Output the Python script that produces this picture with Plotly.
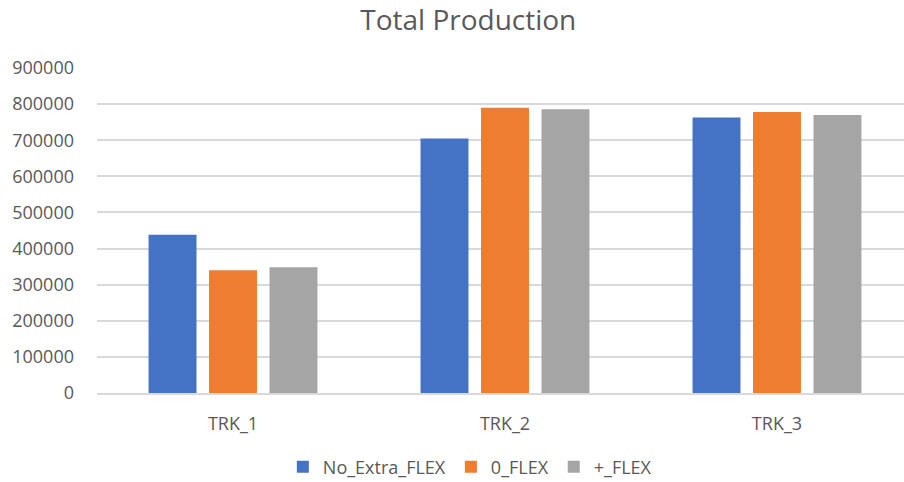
import plotly.graph_objects as go

# Total production per truck under three flexibility scenarios
categories = ["TRK_1", "TRK_2", "TRK_3"]
no_extra_flex = [438000, 705000, 763000]
zero_flex = [340000, 790000, 778000]
plus_flex = [348000, 786000, 770000]

series = [
    ("No_Extra_FLEX", no_extra_flex, "#4472C4"),
    ("0_FLEX", zero_flex, "#ED7D31"),
    ("+_FLEX", plus_flex, "#A5A5A5"),
]

fig = go.Figure()
for name, values, color in series:
    fig.add_trace(go.Bar(name=name, x=categories, y=values, marker_color=color,
                         marker_line_width=0))

text_color = "#595959"
grid_color = "#D9D9D9"

fig.update_layout(
    width=904,
    height=482,
    margin=dict(l=97, r=0, t=68, b=89, autoexpand=False),
    paper_bgcolor="white",
    plot_bgcolor="white",
    font=dict(family="Open Sans", size=18, color=text_color),
    title=dict(text="Total Production", x=0.518, xref="container", xanchor="center",
               y=0.958, yref="container", yanchor="middle",
               font=dict(family="Open Sans", size=28, color=text_color)),
    barmode="group",
    bargap=0.333,
    bargroupgap=0.207,
    legend=dict(orientation="h", x=0.462, xanchor="center", y=-0.228, yanchor="middle",
                font=dict(size=18, color=text_color), itemwidth=30,
                traceorder="normal"),
    showlegend=True,
)

fig.update_xaxes(
    type="category",
    range=[-0.5, 2.467],
    showgrid=False,
    showline=True,
    linecolor=grid_color,
    linewidth=1.5,
    ticks="",
    ticklabelstandoff=14,
    tickfont=dict(size=18, color=text_color),
)

fig.update_yaxes(
    range=[0, 900000],
    tickvals=[0, 100000, 200000, 300000, 400000, 500000, 600000, 700000, 800000, 900000],
    ticktext=["0", "100000", "200000", "300000", "400000", "500000", "600000",
              "700000", "800000", "900000"],
    showgrid=True,
    gridcolor=grid_color,
    gridwidth=1.5,
    zeroline=False,
    showline=False,
    ticks="",
    ticklabelstandoff=22,
    tickfont=dict(size=18, color=text_color),
)

fig.write_html("out.html")
